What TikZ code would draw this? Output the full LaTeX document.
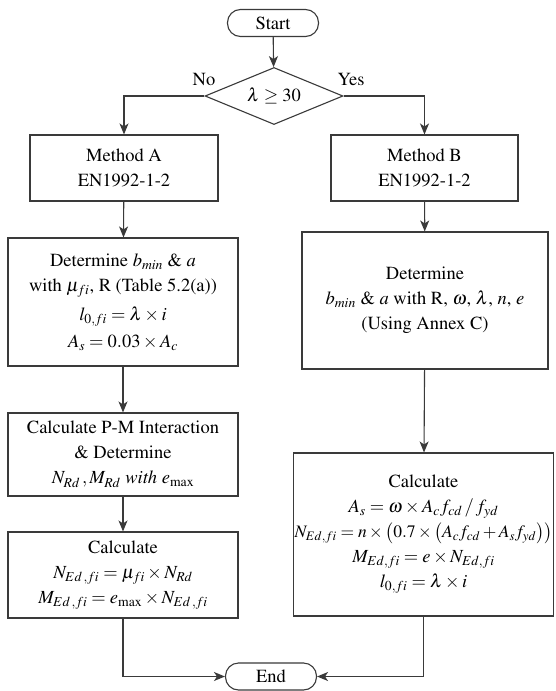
\documentclass[tikz,border=0pt]{standalone}
\usepackage[T1]{fontenc}
\usepackage{mathptmx}
\usetikzlibrary{arrows.meta,shapes.geometric}
\definecolor{ln}{HTML}{3A3A3A}
\tikzset{
  every node/.style={font=\rmfamily\fontsize{18.5}{25}\selectfont, text=black},
  box/.style={draw=ln, line width=1.1pt, rectangle, align=center, inner sep=0pt},
  term/.style={draw=ln, line width=1.1pt, rectangle, rounded corners=13pt, inner sep=0pt, minimum width=91pt, minimum height=27pt},
  cond/.style={draw=ln, line width=1.1pt, diamond, aspect=2.4, inner sep=0pt, minimum width=138pt, minimum height=57pt},
  conn/.style={draw=ln, line width=1.1pt},
  arr/.style={conn, -{Stealth[length=11pt,width=9pt,inset=3pt]}},
}
\begin{document}
\begin{tikzpicture}[x=1pt,y=1pt]
\useasboundingbox (0,0) rectangle (555,-691);
\fill[white] (0,0) rectangle (555,-691);
\node[term] (start) at (273,-23) {Start};
\node[cond] (dec) at (274,-96) {$\lambda \geq 30$};
\node (no) at (204,-80) {No};
\node (yes) at (351,-80) {Yes};
\node[box, minimum width=188pt, minimum height=66pt] (mA) at (124,-168) {Method A\\EN1992-1-2};
\node[box, minimum width=230pt, minimum height=128pt] (detA) at (123,-302)
  {Determine $b_{min}$ \& $a$\\with $\mu_{fi}$, R (Table 5.2(a))\\[4pt]$l_{0,fi} = \lambda\times i$\\[2pt]$A_s = 0.03\times A_c$};
\node[box, minimum width=230pt, minimum height=83pt] (pmA) at (123,-454.5)
  {Calculate P-M Interaction\\\& Determine\\$N_{Rd}\,,M_{Rd}$ \textit{with} $e_{\max}$};
\node[box, minimum width=230pt, minimum height=86pt] (calA) at (123,-575)
  {Calculate\\$N_{Ed\,,fi} = \mu_{fi}\times N_{Rd}$\\$M_{Ed\,,fi} = e_{\max}\times N_{Ed\,,fi}$};
\node[box, minimum width=187pt, minimum height=66pt] (mB) at (424.5,-168) {Method B\\EN1992-1-2};
\node[box, minimum width=246pt, minimum height=137pt] (detB) at (425,-300.5)
  {Determine\\$b_{min}$ \& $a$ with R, $\omega$, $\lambda$, $n$, $e$\\(Using Annex C)};
\node[box, minimum width=260pt, minimum height=163pt] (calB) at (423.5,-534.5)
  {Calculate\\$A_s = \omega\times A_c f_{cd}\,/\,f_{yd}$\\{\fontsize{17.5}{25}\selectfont$N_{Ed,fi} = n\times\bigl(0.7\times\bigl(A_c f_{cd} + A_s f_{yd}\bigr)\bigr)$}\\$M_{Ed,fi} = e\times N_{Ed,fi}$\\$l_{0,fi} = \lambda\times i$};
\node[term] (end) at (271,-676.5) {End};
\draw[arr] (start) -- (dec);
\draw[arr] (dec.west) -| (mA.north);
\draw[arr] (dec.east) -| (mB.north);
\draw[arr] (mA) -- (detA);
\draw[arr] (detA) -- (pmA);
\draw[arr] (pmA) -- (calA);
\draw[arr] (mB) -- (detB);
\draw[arr] (detB) -- (calB);
\draw[arr] (calA.south) |- (end.west);
\draw[arr] (calB.south) |- (end.east);
\end{tikzpicture}
\end{document}
